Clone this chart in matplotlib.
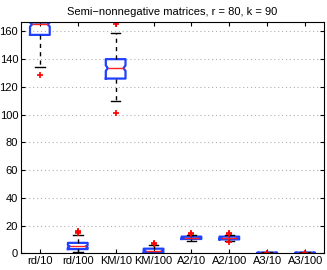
import matplotlib
matplotlib.use("Agg")
import matplotlib.pyplot as plt

labels = ["rd/10", "rd/100", "KM/10", "KM/100", "A2/10", "A2/100", "A3/10", "A3/100"]
medians = [165.0, 5.0, 133.5, 1.5, 11.0, 11.0, 0.2, 0.2]
q1 = [157.5, 3.0, 126.0, 0.5, 10.3, 10.0, 0.0, 0.0]
q3 = [166.5, 7.5, 140.0, 3.3, 12.0, 12.0, 0.5, 0.5]
whislo = [134.5, 0.7, 109.5, 0.0, 8.5, 8.5, 0.0, 0.0]
whishi = [166.5, 13.5, 159.0, 6.0, 13.5, 13.0, 0.6, 0.6]
fliers = [[128.5], [14.6, 15.5, 16.2], [165.6, 101.5], [6.6, 7.5], [13.8, 14.5], [14.5, 13.7, 8.0], [0.5], [0.5]]
notch_lo = [163.5, 4.2, 131.5, 1.0, 10.7, 10.6, 0.1, 0.1]
notch_hi = [166.5, 5.8, 135.5, 2.0, 11.3, 11.4, 0.3, 0.3]

plt.rcParams['font.family'] = ['Liberation Sans', 'DejaVu Sans']
fig = plt.figure(figsize=(3.27, 2.70), dpi=100)
ax = fig.add_axes([0.064, 0.062, 0.927, 0.855])

stats = []
for i in range(len(labels)):
    stats.append(dict(med=medians[i], q1=q1[i], q3=q3[i], whislo=whislo[i], whishi=whishi[i],
                      fliers=fliers[i], cilo=notch_lo[i], cihi=notch_hi[i], label=labels[i]))

res = ax.bxp(stats, widths=0.52, shownotches=True, patch_artist=False,
             boxprops=dict(color='#2040ff', linewidth=1.6),
             medianprops=dict(color='#ff2020', linewidth=1.0),
             whiskerprops=dict(color='black', linewidth=1.0, linestyle=(0, (3, 3))),
             capprops=dict(color='black', linewidth=1.0),
             capwidths=0.25,
             flierprops=dict(marker='+', markeredgecolor='red', markersize=5, markeredgewidth=1.2))

# soften the notch inset to MATLAB-like depth
for i, box in enumerate(res['boxes']):
    xd = box.get_xdata().copy()
    c = i + 1
    half = 0.26
    for j in range(len(xd)):
        off = xd[j] - c
        if abs(abs(off) - half / 2) < 1e-6:
            xd[j] = c + (0.8 * half if off > 0 else -0.8 * half)
    box.set_xdata(xd)
for i, med in enumerate(res['medians']):
    c = i + 1
    med.set_xdata([c - 0.8 * 0.26, c + 0.8 * 0.26])

ax.set_xlim(0.5, 8.5)
ax.set_ylim(0, 166.5)
ax.set_yticks([0, 20, 40, 60, 80, 100, 120, 140, 160])
ax.yaxis.grid(True, linestyle=(0, (1, 2.5)), color='#b0b0b0', linewidth=0.8)
ax.set_axisbelow(True)
ax.tick_params(direction='in', length=3, labelsize=8, top=True, right=True, pad=2)
ax.set_title("Semi\u2212nonnegative matrices, r = 80, k = 90", fontsize=8, pad=5)
for s in ax.spines.values():
    s.set_linewidth(0.8)

fig.savefig("out.png", dpi=100)
